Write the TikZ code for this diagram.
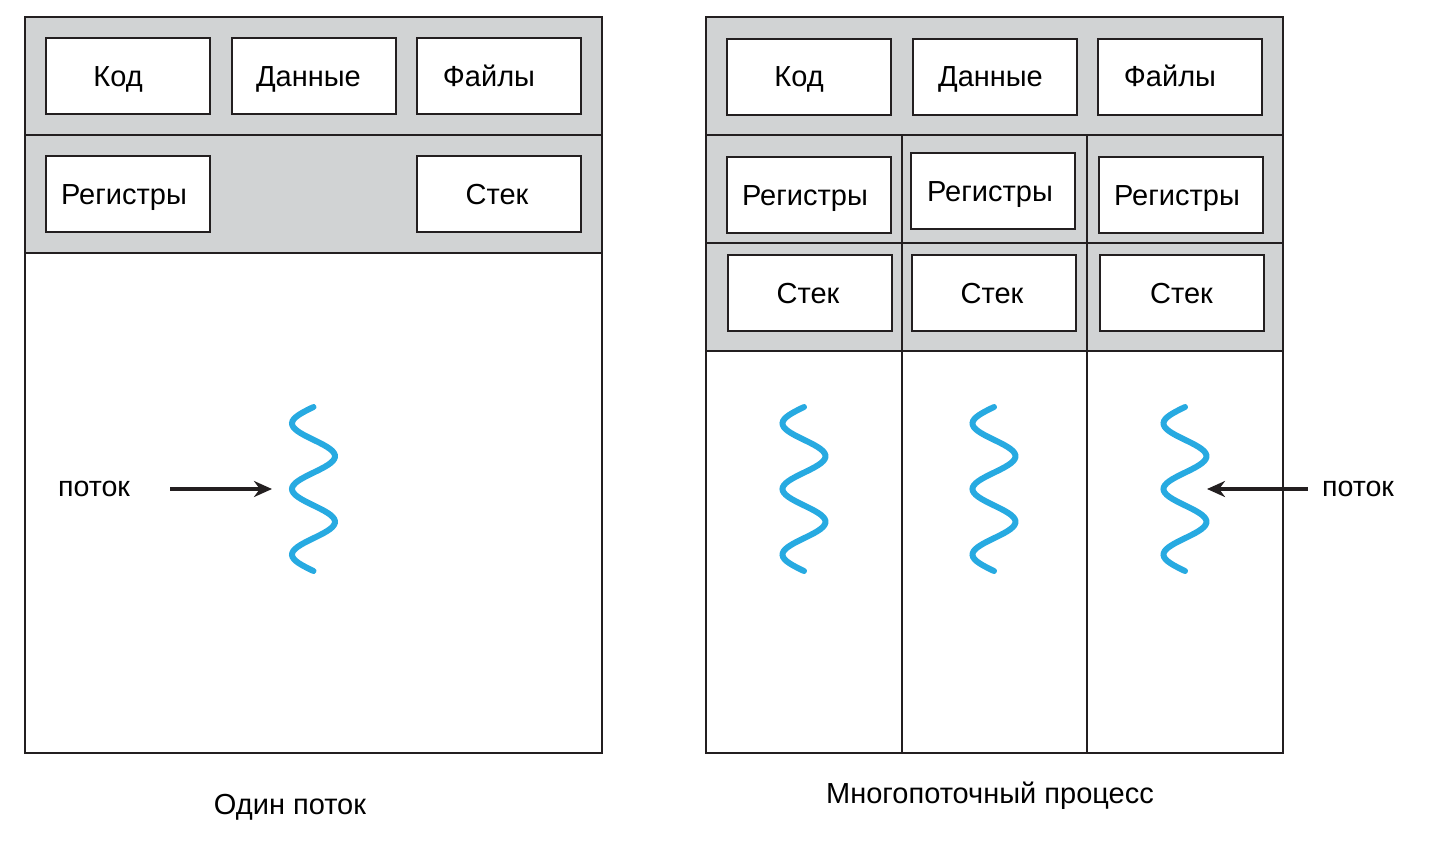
\documentclass[tikz,border=0pt]{standalone}
\usepackage{fontspec}
\setmainfont{Liberation Sans}
\usetikzlibrary{arrows.meta}
\definecolor{band}{HTML}{D1D3D4}
\definecolor{ink}{HTML}{231F20}
\definecolor{thr}{HTML}{27AAE1}
\begin{document}
\begin{tikzpicture}[x=0.5pt,y=-0.5pt,
  box/.style={draw=ink, line width=1pt, fill=white, minimum width=82pt, minimum height=38pt,
    inner sep=0pt, text height=10.4pt, text depth=0pt, font=\fontsize{14.5}{16}\selectfont},
  frame/.style={draw=ink, line width=1pt},
  thread/.style={draw=thr, line width=3pt, line cap=round},
  ptr/.style={draw=ink, line width=1.8pt, -{Stealth[length=9pt,width=8pt]}},
  lbl/.style={inner sep=0pt, font=\fontsize{14.3}{16}\selectfont, anchor=base},
  titlelbl/.style={inner sep=0pt, font=\fontsize{14.5}{16}\selectfont, anchor=base}]
\useasboundingbox (0,0) rectangle (1448,852);

% ---------- single thread ----------
\fill[band] (25,17) rectangle (602,253);
\draw[frame] (25,17) rectangle (602,753);
\draw[frame] (25,135) -- (602,135);
\draw[frame] (25,253) -- (602,253);

\node[box] (kodL) at (128,76) {Код\hspace*{10pt}};
\node[box] (datL) at (313.5,76) {Данные\hspace*{5pt}};
\node[box] (filL) at (499,76) {Файлы\hspace*{10pt}};
\node[box] (regL) at (128,194) {Регистры\hspace*{4pt}};
\node[box] (stkL) at (499,194) {Стек\hspace*{2pt}};

\draw[thread] plot[domain=0:164, samples=83, smooth, variable=\t]
  ({313.5-21.5*sin(5.4878*\t)},{407+\t});
\node[lbl] (potokL) at (94,496) {поток};
\coordinate (tL) at (272,489);
\draw[ptr, shorten <=20pt] (potokL.east |- tL) -- (tL);

\node[titlelbl] (oneT) at (290,814) {Один поток};

% ---------- multi thread ----------
\fill[band] (706,17) rectangle (1283,351);
\draw[frame] (706,17) rectangle (1283,753);
\draw[frame] (706,135) -- (1283,135);
\draw[frame] (706,243) -- (1283,243);
\draw[frame] (706,351) -- (1283,351);
\draw[frame] (902,135) -- (902,753);
\draw[frame] (1087,135) -- (1087,753);

\node[box] (kodR) at (809,76.5) {Код\hspace*{10pt}};
\node[box] (datR) at (994.5,76.5) {Данные\hspace*{4pt}};
\node[box] (filR) at (1180,76.5) {Файлы\hspace*{10pt}};
\node[box] (reg1) at (809,195) {Регистры\hspace*{4pt}};
\node[box] (reg2) at (993,191) {Регистры\hspace*{3pt}};
\node[box] (reg3) at (1181,195) {Регистры\hspace*{4pt}};
\node[box] (stk1) at (810,293) {Стек\hspace*{2pt}};
\node[box] (stk2) at (994,293) {Стек\hspace*{2pt}};
\node[box] (stk3) at (1181.5,293) {Стек};

\foreach \cx in {804,994,1185}
  \draw[thread] plot[domain=0:164, samples=83, smooth, variable=\t]
    ({\cx-21.5*sin(5.4878*\t)},{407+\t});
\node[lbl] (potokR) at (1358,496) {поток};
\coordinate (tR) at (1207,489);
\draw[ptr, shorten <=7pt] (potokR.west |- tR) -- (tR);

\node[titlelbl] (multiT) at (990,803) {Многопоточный процесс};
\end{tikzpicture}
\end{document}
